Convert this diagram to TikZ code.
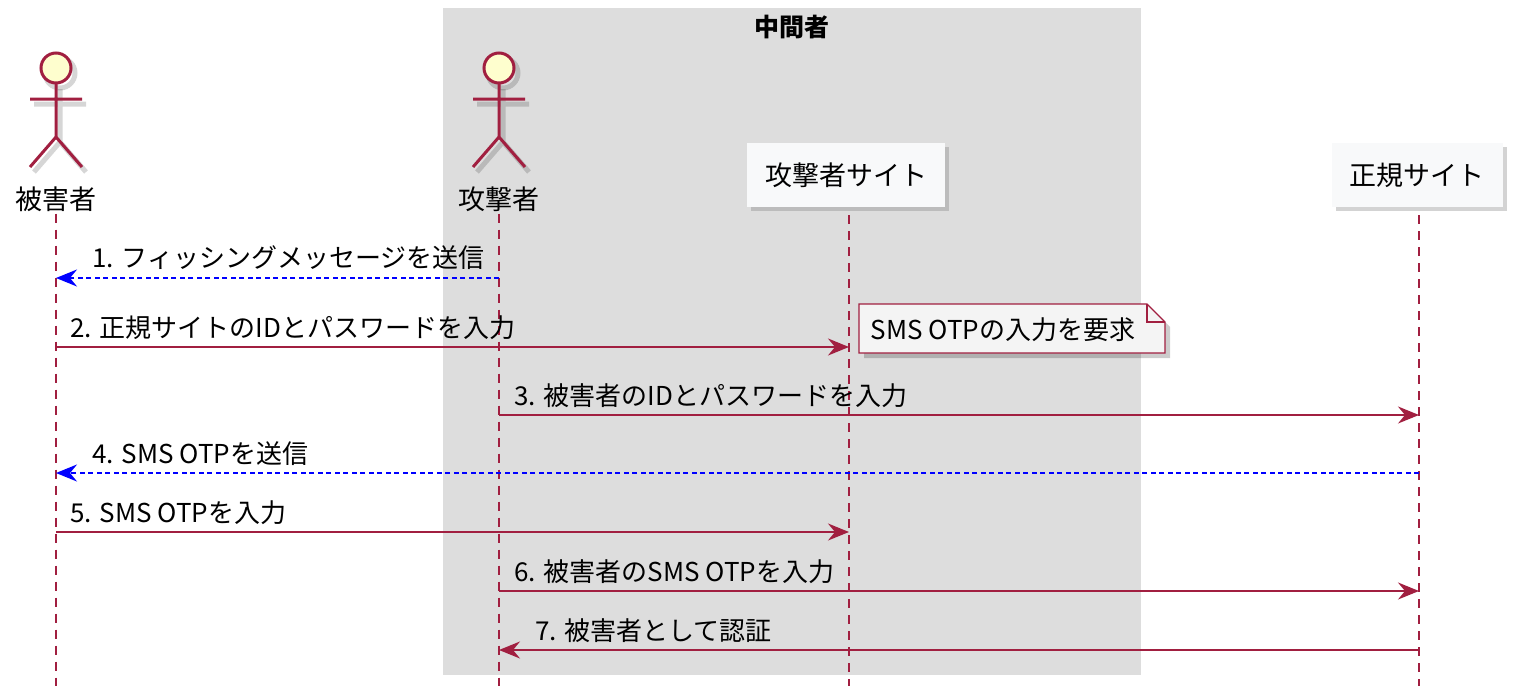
\documentclass[tikz,border=0pt]{standalone}
\usepackage{fontspec}
\setmainfont{Noto Sans CJK JP}
\usetikzlibrary{arrows.meta,shadows}
\definecolor{pred}{HTML}{A11F40}
\definecolor{headbg}{HTML}{FEFECE}
\definecolor{grpbg}{HTML}{DDDDDD}
\definecolor{boxbg}{HTML}{F8F9FA}
\definecolor{notebg}{HTML}{F4F4F4}
\begin{document}
\begin{tikzpicture}[x=1pt,y=-1pt,
  lbl/.style={font=\fontsize{27}{31}\selectfont,inner sep=2pt},
  msgtxt/.style={font=\fontsize{26}{30}\selectfont,inner sep=0pt,anchor=base west},
  life/.style={pred,line width=1.8pt,dash pattern=on 9pt off 7pt},
  tip/.style={-{Stealth[length=21pt,width=17pt,inset=7pt]}},
  msg/.style={pred,line width=1.8pt,tip},
  ret/.style={blue,line width=1.8pt,dash pattern=on 5pt off 3.5pt,tip},
  site/.style={fill=boxbg,inner xsep=18pt,minimum height=64pt,font=\fontsize{27}{31}\selectfont,
    drop shadow={shadow xshift=4pt,shadow yshift=-4pt,opacity=.35}},
  stick/.style={pred,line width=3pt}]
\useasboundingbox (0,0) rectangle (1526,696);
%Группа
\fill[grpbg] (443,8) rectangle (1141,675);
\node[font=\bfseries\fontsize{25}{29}\selectfont] (mid) at (792,27) {中間者};
%Актёры
\foreach \x/\n/\t in {56/vic/被害者,499/att/攻撃者}{
  \begin{scope}[black,opacity=.16,line width=5pt,shift={(4,5)}]
    \draw (\x,68) circle (15);
    \draw (\x,84)--(\x,137) (\x-26,99)--(\x+26,99) (\x-26,167)--(\x,137)--(\x+26,167);
  \end{scope}
  \draw[stick,fill=headbg] (\x,68) circle (15);
  \draw[stick] (\x,83)--(\x,137) (\x-26,99)--(\x+26,99) (\x-26,167)--(\x,137)--(\x+26,167);
  \node[lbl] (\n) at (\x,199) {\t};
  \coordinate (\n-e) at (\x,686);
}
%Сайты
\node[site] (asite) at (846,175) {攻撃者サイト};
\node[site] (lsite) at (1417,175) {正規サイト};
\coordinate (asite-e) at (849,686);
\coordinate (lsite-e) at (1419,686);
%Линии жизни
\draw[life] (vic)--(vic-e);
\draw[life] (att)--(att-e);
\draw[life,shorten <=8pt] (asite.south -| asite-e)--(asite-e);
\draw[life,shorten <=8pt] (lsite.south -| lsite-e)--(lsite-e);
%Точки сообщений
\foreach \r/\y in {1/278,2/347,3/415,4/473,5/532,6/591,7/650}{
  \coordinate (vic\r) at (56,\y);
  \coordinate (att\r) at (499,\y);
  \coordinate (asite\r) at (849,\y);
  \coordinate (lsite\r) at (1419,\y);
}
%Заметка
\fill[black,opacity=.2] (864,309)--(1152,309)--(1170,327)--(1170,358)--(864,358)--cycle;
\draw[pred,line width=1.2pt,fill=notebg] (859,304)--(1147,304)--(1165,322)--(1165,353)--(859,353)--cycle;
\draw[pred,line width=1.2pt] (1147,304)--(1147,322)--(1165,322);
\node[font=\fontsize{26}{30}\selectfont,inner sep=0pt] (note) at (1003,330) {SMS OTPの入力を要求};
%Сообщения
\draw[ret] (att1)--(vic1);
\node[msgtxt] (m1) at (92,267) {1. フィッシングメッセージを送信};
\draw[msg] (vic2)--(asite2);
\node[msgtxt] (m2) at (70,337) {2. 正規サイトのIDとパスワードを入力};
\draw[msg] (att3)--(lsite3);
\node[msgtxt] (m3) at (514,405) {3. 被害者のIDとパスワードを入力};
\draw[ret] (lsite4)--(vic4);
\node[msgtxt] (m4) at (92,463) {4. SMS OTPを送信};
\draw[msg] (vic5)--(asite5);
\node[msgtxt] (m5) at (70,522) {5. SMS OTPを入力};
\draw[msg] (att6)--(lsite6);
\node[msgtxt] (m6) at (514,581) {6. 被害者のSMS OTPを入力};
\draw[msg] (lsite7)--(att7);
\node[msgtxt] (m7) at (535,640) {7. 被害者として認証};
\end{tikzpicture}
\end{document}
